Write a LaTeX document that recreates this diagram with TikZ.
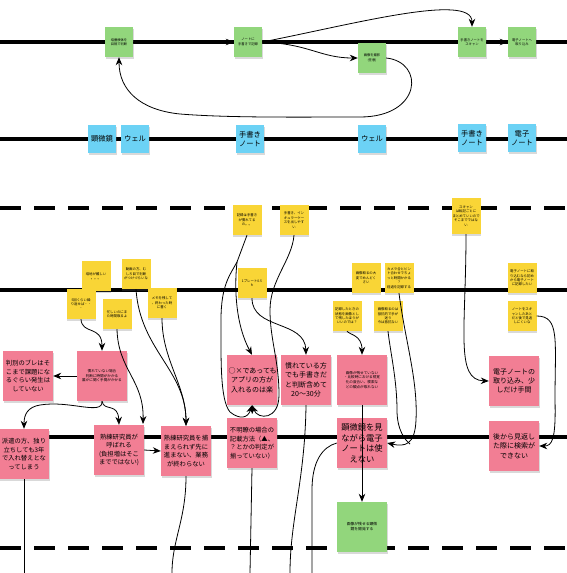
\documentclass[tikz,border=0pt]{standalone}
\usepackage{fontspec}
\newfontfamily\jp{Noto Sans CJK JP}
\usetikzlibrary{arrows.meta,shadows}
\definecolor{gcol}{RGB}{146,214,124}
\definecolor{bcol}{RGB}{108,210,245}
\definecolor{ycol}{RGB}{249,213,54}
\definecolor{pcol}{RGB}{242,126,148}
\begin{document}
\begin{tikzpicture}[x=1pt,y=-1pt,
  note/.style={draw=none,inner sep=1pt,align=center,
    drop shadow={opacity=0.25,shadow xshift=0.6pt,shadow yshift=-1.6pt,fill=black!60}},
  gnote/.style={note,fill=gcol,minimum width=28pt,minimum height=30pt,text width=26pt,
    font=\jp\fontsize{3.3}{4.3}\selectfont},
  bnote/.style={note,fill=bcol,minimum width=28pt,minimum height=28pt,text width=26pt,
    font=\jp\fontsize{7.3}{9.5}\selectfont},
  ynote/.style={note,fill=ycol,minimum width=29pt,minimum height=30pt,text width=27pt,
    font=\jp\fontsize{3.4}{4.4}\selectfont},
  pnote/.style={note,fill=pcol,minimum width=50pt,minimum height=50pt,text width=47pt,
    font=\jp\fontsize{6.3}{8.6}\selectfont},
  tline/.style={line width=3.6pt},
  dline/.style={line width=3.6pt,dash pattern=on 21pt off 13pt},
  arr/.style={-{Stealth[length=8pt,width=6.5pt]},line width=0.8pt},
  ln/.style={line width=0.8pt}]
\useasboundingbox (0,0) rectangle (567,573);
% timelines
\draw[tline] (0,42) -- (567,42);
\draw[tline] (0,139) -- (567,139);
\draw[dline] (0,208) -- (567,208);
\draw[tline] (0,290) -- (567,290);
\draw[tline] (0,437) -- (567,437);
\draw[dline] (0,548) -- (567,548);
% green
\node[gnote] (g1) at (119,42) {培養検体を\\目視で判断};
\node[gnote] (g2) at (248,42) {ノートに\\手書きで記録};
\node[gnote] (g3) at (372,58) {画像を撮影\\(任意)};
\node[gnote] (g4) at (472,42) {手書きノートを\\スキャン};
\node[gnote] (g5) at (522,42) {電子ノートへ\\取り込み};
% blue
\node[bnote] (b1) at (102,139) {顕微鏡};
\node[bnote] (b2) at (135,139) {ウェル};
\node[bnote] (b3) at (250,139) {手書き\\ノート};
\node[bnote] (b4) at (372,139) {ウェル};
\node[bnote] (b5) at (472,138) {手書き\\ノート};
\node[bnote] (b6) at (522,138) {電子\\ノート};
% yellow
\node[ynote] (y1) at (247,220) {記録は手書き\\が慣れてる\\の。。};
\node[ynote] (y2) at (294,220) {手書き、イン\\キュラーケー\\スを出しやす\\い};
\node[ynote,minimum height=36pt] (y3) at (466,216) {スキャン\\は転記ごとに\\まとめていいので\\そこまでではな\\い};
\node[ynote] (y4) at (96,276) {培地が難しい\\。。。};
\node[ynote] (y5) at (136,274) {動画の方、む\\しろ目で判断\\がつけづらいな};
\node[ynote] (y6) at (81,304) {5回くらい繰\\り返せば・・\\・};
\node[ynote] (y7) at (117,314) {忙しいのにま\\た時間取るよ};
\node[ynote] (y8) at (162,303) {メモを残して\\、終わった時\\に書く};
\node[ynote] (y9) at (252,283) {1プレート0.5\\h};
\node[ynote] (y10) at (366,278) {画像取るの大\\変でめんどく\\さい};
\node[ynote] (y11) at (399,278) {カメラ合とピン\\ト合わせでちょ\\っと時間かかる\\？\\経過を記録する};
\node[ynote] (y12) at (347,316) {記録したときの\\状態を画像とし\\て残したほうが\\いいのでは？};
\node[ynote] (y13) at (388,316) {画像取るのは\\抵抗的で手が\\迷う\\今は抵抗ない};
\node[ynote] (y14) at (522,278) {電子ノートに取\\り込むなら初め\\から電子ノート\\に記録したい};
\node[ynote] (y15) at (522,316) {ノートをスキ\\ャンしたあと\\だと後で見返\\しにくいな};
% pink
\node[pnote] (p1) at (28,376) {判別のブレはそ\\こまで課題にな\\るぐらい発生は\\していない};
\node[pnote,font=\jp\fontsize{3.6}{4.6}\selectfont] (p2) at (102,376) {慣れていない場合\\判断に時間がかかる\\誰かに聞く手間がかかる};
\node[pnote] (p3) at (24,454) {派遣の方、独り\\立ちしても3年\\で入れ替えとな\\ってしまう};
\node[pnote] (p4) at (119,450) {熟練研究員が\\呼ばれる\\(負担増はそこ\\までではない)};
\node[pnote] (p5) at (186,451) {熟練研究員を捕\\まえられず先に\\進まない、業務\\が終わらない};
\node[pnote,font=\jp\fontsize{7}{9.4}\selectfont] (p6) at (252,380) {○×であっても\\アプリの方が\\入れるのは楽};
\node[pnote,font=\jp\fontsize{7}{9.4}\selectfont] (p7) at (306,380) {慣れている方\\でも手書きだ\\と判断含めて\\20〜30分};
\node[pnote,font=\jp\fontsize{3.6}{4.8}\selectfont] (p8) at (362,380) {画像が残せていない\\・比較時における視覚\\化の度合い、検索な\\どの観点が取れない};
\node[pnote] (p9) at (252,443) {不明瞭の場合の\\記載方法（▲、\\？とかの判定が\\揃っていない）};
\node[pnote,font=\jp\fontsize{8.3}{10.5}\selectfont] (p10) at (362,443) {顕微鏡を見\\ながら電子\\ノートは使\\えない};
\node[pnote,font=\jp\fontsize{7}{9.4}\selectfont] (p11) at (514,381) {電子ノートの\\取り込み、少\\しだけ手間};
\node[pnote,font=\jp\fontsize{7}{9.4}\selectfont] (p12) at (514,446) {後から見返し\\た際に検索が\\できない};
\node[pnote,fill=gcol,font=\jp\fontsize{3.8}{5}\selectfont] (gb) at (362,527) {画像が残せる顕微\\鏡を開発する};
\coordinate (c1) at (237,262);
\coordinate (bot1) at (24,573);
\coordinate (bot2) at (172,573);
\coordinate (bot3) at (250,573);
\coordinate (bot4) at (290,573);
\coordinate (bot5) at (312,573);
% top arrows
\draw[arr] (g1.east) -- (g2.west);
\draw[arr] (g2.east) .. controls (350,25) and (472,-8) .. (g4.north);
\draw[arr] (g2.east) .. controls (310,44) and (320,58) .. (g3.west);
\draw[arr] (g4.east) -- (g5.west);
\draw[arr] (g3.east) .. controls (425,62) and (422,117) .. (360,117)
  .. controls (300,117) and (230,118) .. (180,114)
  .. controls (140,110) and (119,90) .. (g1.south);
% left cluster
\draw[arr] (y6.south) .. controls (82,335) and (102,325) .. (p2.north);
\draw[arr] (p2.west) -- (p1.east);
\draw[arr] (p2.south) .. controls (103,416) and (70,400) .. (40,405) .. controls (28,407) and (24,414) .. (p3.north);
\draw[arr] (p2.south) .. controls (104,412) and (118,402) .. (p4.north);
\draw[arr] (y7.south) .. controls (118,370) and (144,380) .. (143,424);
\draw[arr] (y5.south) .. controls (140,350) and (186,370) .. (p5.north);
\draw[arr] (y8.south) .. controls (162,360) and (186,385) .. (p5.north);
\draw[arr] (p4.east) -- (p5.west);
\draw[ln] (p3.south) -- (bot1);
\draw[ln] (p5.south) .. controls (186,520) and (172,540) .. (bot2);
% centre
\draw[ln] (y1.south) -- (c1);
\draw[arr] (c1) .. controls (234,290) and (236,325) .. (p6.north);
\draw[arr] (c1) .. controls (230,275) and (221,285) .. (221,320)
  .. controls (221,360) and (220,400) .. (230,412)
  .. controls (240,420) and (248,418) .. (p6.south);
\draw[arr] (y2.south) .. controls (292,260) and (270,280) .. (270,310)
  .. controls (270,340) and (279,360) .. (279,395)
  .. controls (279,420) and (258,420) .. (p6.south);
\draw[arr] (y9.south) .. controls (252,330) and (305,320) .. (p7.north);
\draw[arr] (y12.south) .. controls (350,335) and (362,335) .. (p8.north);
\draw[ln] (p7.south) .. controls (305,480) and (290,520) .. (bot4);
\draw[ln] (p9.south) -- (bot3);
\draw[ln] (p10.west) .. controls (322,447) and (312,462) .. (312,490) -- (bot5);
\draw[arr] (y11.south) .. controls (405,340) and (418,380) .. (416,420)
  .. controls (415,445) and (405,447) .. (p10.east);
\draw[ln] (y13.south) .. controls (390,350) and (397,380) .. (397,410)
  .. controls (397,430) and (405,440) .. (410,444);
\draw[arr] (p8.south) -- (gb.north);
% right
\draw[arr] (y3.south) .. controls (466,330) and (455,380) .. (p11.west);
\draw[arr] (y15.east) .. controls (560,316) and (555,340) .. (555,400)
  .. controls (556,440) and (552,446) .. (p12.east);
\end{tikzpicture}
\end{document}
